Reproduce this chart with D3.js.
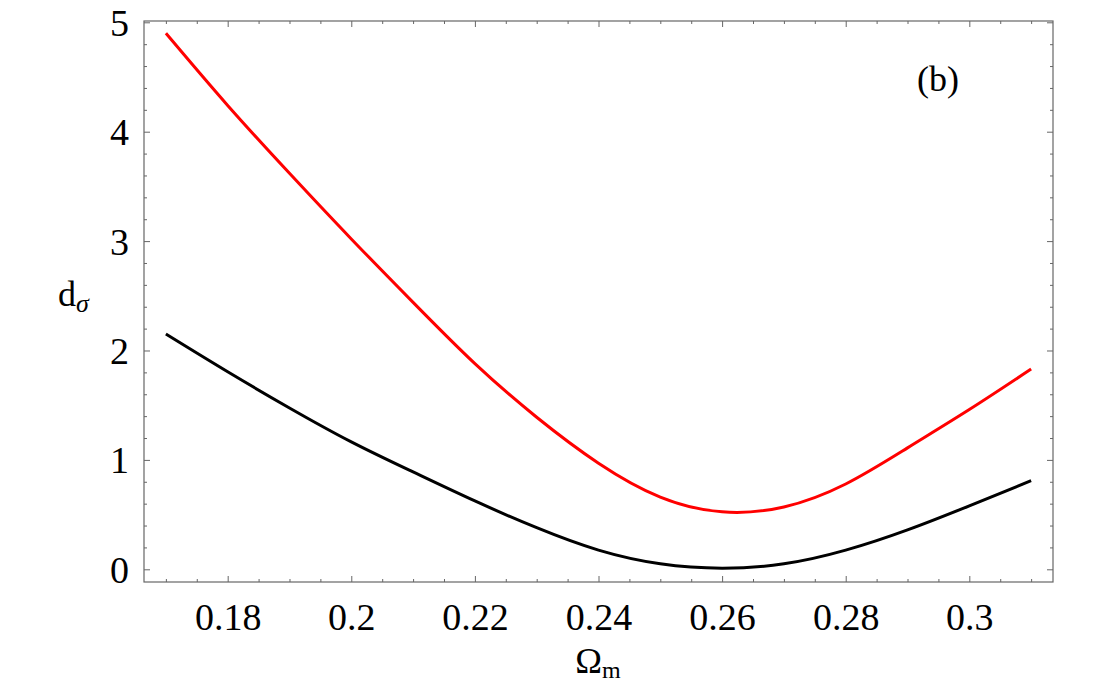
<html>
<head>
  <script src="https://d3js.org/d3.v7.min.js"></script>
  <style>
    body { margin: 0; background: #fff; }
    text { font-family: "Liberation Serif", "DejaVu Serif", serif; fill: #000; }
  </style>
</head>
<body>
  <div id="chart"></div>
  <script>
    // values
    const omega = [0.17, 0.18, 0.19, 0.20, 0.21, 0.22, 0.23, 0.24, 0.25, 0.26, 0.27, 0.28, 0.29, 0.30, 0.31];
    const redCurve = [4.90, 4.24, 3.62, 3.02, 2.44, 1.88, 1.39, 0.97, 0.66, 0.525, 0.57, 0.78, 1.11, 1.46, 1.83];
    const blackCurve = [2.15, 1.805, 1.475, 1.165, 0.89, 0.625, 0.38, 0.175, 0.05, 0.01, 0.05, 0.175, 0.36, 0.58, 0.81];
    const xTicks = [0.18, 0.2, 0.22, 0.24, 0.26, 0.28, 0.3];
    const yTicks = [0, 1, 2, 3, 4, 5];

    const w = 1111, h = 687;
    const padL = 144, padR = 1053, padT = 21, padB = 582;

    const svg = d3.select("#chart").append("svg")
      .attr("width", w)
      .attr("height", h);

    const xScale = d3.scaleLinear()
      .domain([0.16646, 0.31354])
      .range([padL, padR]);

    const yScale = d3.scaleLinear()
      .domain([-0.1161, 5.0119])
      .range([padB, padT]);

    const frameColor = "#666";

    // minor ticks
    const xMinor = d3.range(0.17, 0.3126, 0.005).filter(v => !xTicks.some(t => Math.abs(t - v) < 1e-6));
    const yMinor = d3.range(0, 5.01, 0.2).filter(v => !yTicks.some(t => Math.abs(t - v) < 1e-6));

    function tickAxis(axisFn, scale, ticks, len, withLabels, transform) {
      const ax = axisFn(scale)
        .tickValues(ticks)
        .tickSizeInner(-len)
        .tickSizeOuter(0)
        .tickFormat(withLabels ? (d => String(+d.toFixed(2))) : "");
      const g = svg.append("g").attr("transform", transform).call(ax);
      g.select(".domain").remove();
      g.selectAll(".tick line").attr("stroke", frameColor).attr("stroke-width", 1);
      return g;
    }

    // bottom
    const xg = tickAxis(d3.axisBottom, xScale, xTicks, 6, true, "translate(0," + padB + ")");
    xg.selectAll("text").attr("font-size", 38).attr("y", 48).attr("dy", 0).attr("fill", "#000");
    tickAxis(d3.axisBottom, xScale, xMinor, 3, false, "translate(0," + padB + ")");
    // top
    tickAxis(d3.axisTop, xScale, xTicks, 6, false, "translate(0," + padT + ")");
    tickAxis(d3.axisTop, xScale, xMinor, 3, false, "translate(0," + padT + ")");
    // left
    const yg = tickAxis(d3.axisLeft, yScale, yTicks, 6, true, "translate(" + padL + ",0)");
    yg.selectAll("text").attr("font-size", 38).attr("x", -15).attr("dy", "0.34em").attr("fill", "#000");
    tickAxis(d3.axisLeft, yScale, yMinor, 3, false, "translate(" + padL + ",0)");
    // right
    tickAxis(d3.axisRight, yScale, yTicks, 6, false, "translate(" + padR + ",0)");
    tickAxis(d3.axisRight, yScale, yMinor, 3, false, "translate(" + padR + ",0)");

    // frame
    svg.append("rect")
      .attr("x", padL).attr("y", padT)
      .attr("width", padR - padL).attr("height", padB - padT)
      .attr("fill", "none")
      .attr("stroke", frameColor)
      .attr("stroke-width", 1.2);

    const line = d3.line()
      .x((d, i) => xScale(omega[i]))
      .y(d => yScale(d))
      .curve(d3.curveNatural);

    svg.append("path")
      .datum(blackCurve)
      .attr("d", line)
      .attr("fill", "none")
      .attr("stroke", "#000")
      .attr("stroke-width", 3);

    svg.append("path")
      .datum(redCurve)
      .attr("d", line)
      .attr("fill", "none")
      .attr("stroke", "#f00")
      .attr("stroke-width", 3);

    // panel label
    svg.append("text")
      .attr("x", 938).attr("y", 91)
      .attr("text-anchor", "middle")
      .attr("font-size", 36)
      .text("(b)");

    // axis labels
    const xl = svg.append("text")
      .attr("x", 598).attr("y", 673)
      .attr("text-anchor", "middle")
      .attr("font-size", 36);
    xl.append("tspan").text("Ω");
    xl.append("tspan").attr("font-size", 24).attr("dy", 5).text("m");

    const yl = svg.append("text")
      .attr("x", 58).attr("y", 306)
      .attr("font-size", 36);
    yl.append("tspan").text("d");
    yl.append("tspan").attr("font-size", 26).attr("dy", 6).attr("font-style", "italic").text("σ");
  </script>
</body>
</html>
